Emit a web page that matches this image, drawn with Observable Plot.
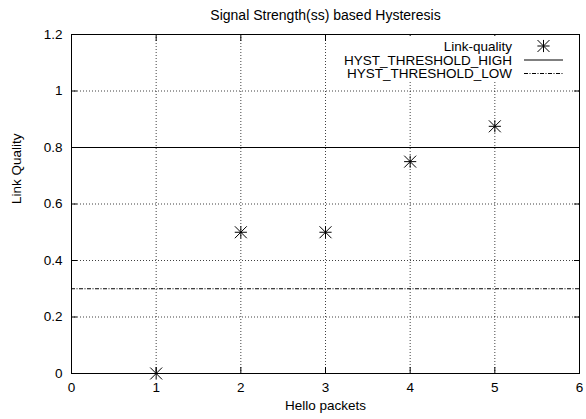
<!DOCTYPE html>
<html>
<head>
<meta charset="utf-8">
<script src="https://cdn.jsdelivr.net/npm/d3@7"></script>
<script src="https://cdn.jsdelivr.net/npm/@observablehq/plot@0.6"></script>
<style>
  html, body { margin: 0; padding: 0; background: #fff; }
  svg { display: block; }
</style>
</head>
<body>
<div id="chart"></div>
<script>
const helloPackets = [1, 2, 3, 4, 5];
const linkQuality = [0, 0.5, 0.5, 0.75, 0.875];
const hystHigh = [0.8];
const hystLow = [0.3];
const xTicks = [0, 1, 2, 3, 4, 5, 6];
const yTicks = [0, 0.2, 0.4, 0.6, 0.8, 1.0, 1.2];
const yTickLabels = ["0", "0.2", "0.4", "0.6", "0.8", "1", "1.2"];
const titleText = "Signal Strength(ss) based Hysteresis";
const xLabel = "Hello packets";
const yLabel = "Link Quality";
const legendLabels = ["Link-quality", "HYST_THRESHOLD_HIGH", "HYST_THRESHOLD_LOW"];

const points = helloPackets.map((x, i) => ({x, y: linkQuality[i]}));
const font = "Liberation Sans, Arial, Helvetica, sans-serif";
const fs = 13.5;
const noLabel = () => "";

const plot = Plot.plot({
  width: 586,
  height: 419,
  marginLeft: 71,
  marginRight: 7,
  marginTop: 34,
  marginBottom: 46,
  style: {fontFamily: font, fontSize: fs + "px", color: "#000", background: "#fff"},
  x: {domain: [0, 6]},
  y: {domain: [0, 1.2]},
  marks: [
    Plot.gridX(xTicks.slice(1, -1), {stroke: "#000", strokeOpacity: 0.75, strokeDasharray: "1,2"}),
    Plot.gridY(yTicks.slice(1, -1), {stroke: "#000", strokeOpacity: 0.75, strokeDasharray: "1,2"}),
    Plot.ruleY(hystHigh, {stroke: "#000", strokeWidth: 1}),
    Plot.ruleY(hystLow, {stroke: "#000", strokeWidth: 1, strokeDasharray: "4,1.5,1,1.5"}),
    Plot.axisX(xTicks, {anchor: "bottom", tickSize: 0, tickPadding: 9, tickFormat: d => String(d), fontSize: fs, label: null}),
    Plot.axisY(yTicks, {anchor: "left", tickSize: 0, tickPadding: 9, tickFormat: (d, i) => yTickLabels[i], fontSize: fs, label: null}),
    Plot.axisX(xTicks, {anchor: "bottom", tickSize: -6, tickFormat: noLabel, label: null}),
    Plot.axisX(xTicks, {anchor: "top", tickSize: -6, tickFormat: noLabel, label: null}),
    Plot.axisY(yTicks, {anchor: "left", tickSize: -6, tickFormat: noLabel, label: null}),
    Plot.axisY(yTicks, {anchor: "right", tickSize: -6, tickFormat: noLabel, label: null}),
    Plot.frame({stroke: "#000", strokeWidth: 1}),
    Plot.dot(points, {x: "x", y: "y", symbol: "plus", r: 4, stroke: "#000", strokeWidth: 1}),
    Plot.dot(points, {x: "x", y: "y", symbol: "times", r: 5.5, stroke: "#000", strokeWidth: 1}),
    Plot.text([titleText], {frameAnchor: "top", dy: -24, text: d => d, fontSize: 14}),
    Plot.text([xLabel], {frameAnchor: "bottom", dy: 36, text: d => d, fontSize: fs}),
    Plot.text([yLabel], {frameAnchor: "left", dx: -55, rotate: -90, text: d => d, fontSize: fs})
  ]
});

document.getElementById("chart").appendChild(plot);

const svgEl = plot.tagName.toLowerCase() === "svg" ? plot : plot.querySelector("svg");
const svg = d3.select(svgEl);
const frameRight = 586 - 7;
const frameTop = 34;
const g = svg.append("g").attr("font-family", font).attr("font-size", fs);
g.append("rect").attr("x", 338).attr("y", frameTop + 2).attr("width", frameRight - 2 - 338).attr("height", 46).attr("fill", "#fff");
const rowY = [frameTop + 12, frameTop + 26, frameTop + 39.5];
legendLabels.forEach((lab, i) => {
  g.append("text").attr("x", frameRight - 67).attr("y", rowY[i]).attr("dy", "0.35em")
    .attr("text-anchor", "end").attr("fill", "#000").text(lab);
});
const sx1 = frameRight - 55, sx2 = frameRight - 16, sxc = (sx1 + sx2) / 2;
const sym1 = d3.symbol(d3.symbolPlus, Math.PI * 16)();
const sym2 = d3.symbol(d3.symbolTimes, Math.PI * 5.5 * 5.5)();
g.append("path").attr("d", sym1).attr("transform", `translate(${sxc},${rowY[0]})`).attr("fill", "none").attr("stroke", "#000");
g.append("path").attr("d", sym2).attr("transform", `translate(${sxc},${rowY[0]})`).attr("fill", "none").attr("stroke", "#000");
g.append("line").attr("x1", sx1).attr("x2", sx2).attr("y1", rowY[1]).attr("y2", rowY[1]).attr("stroke", "#000");
g.append("line").attr("x1", sx1).attr("x2", sx2).attr("y1", rowY[2]).attr("y2", rowY[2]).attr("stroke", "#000").attr("stroke-dasharray", "4,1.5,1,1.5");
</script>
</body>
</html>
